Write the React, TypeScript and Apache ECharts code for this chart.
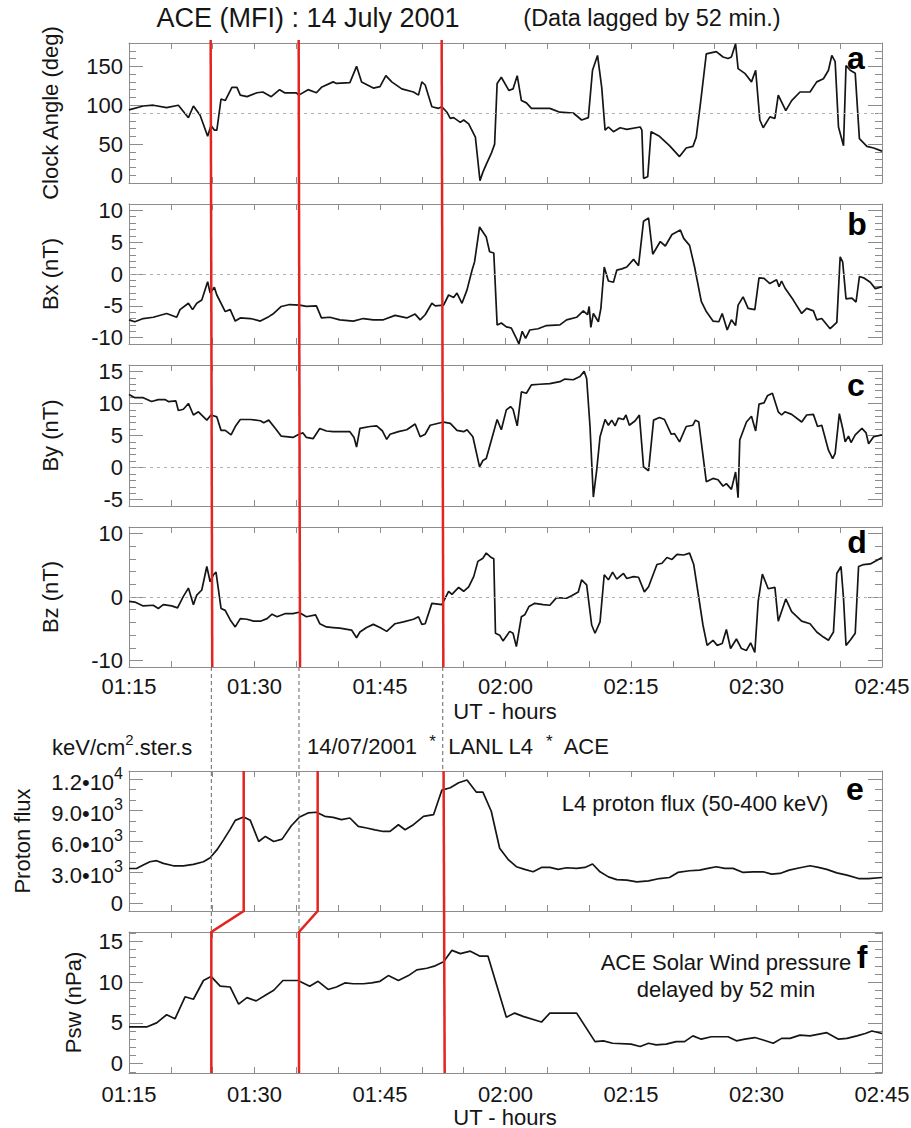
import React, { useEffect, useRef } from 'react';
import * as echarts from 'echarts';

const FONT = '"Liberation Sans", Arial, Helvetica, sans-serif';
const AXIS = '#8c8c8c';
const RED = '#e3241f';
const INK = '#151515';

// ---- data: [minutes after 01:15 UT, value] ----
const clockAngle: [number, number][] = [
  [0, 94], [1.7, 99], [2.9, 100], [4.5, 97], [5.9, 100], [7.1, 84], [7.7, 99], [8.5, 87], [9.4, 60], [9.8, 74],
  [10.2, 68], [10.5, 68], [11.0, 108], [11.5, 106], [12.3, 123], [12.9, 123], [13.3, 113], [14.1, 111], [15.3, 116],
  [16.0, 117], [17.0, 111], [18.0, 120], [18.6, 116], [20.0, 116], [20.3, 113], [21.4, 120], [22.4, 116], [23.0, 123],
  [24.4, 130], [24.8, 128], [26.4, 129], [27.2, 150], [27.8, 130], [29.2, 122], [30.0, 124], [30.7, 138], [31.4, 130],
  [32.6, 121], [34.0, 117], [34.6, 113], [35.0, 130], [35.4, 126], [36.2, 98], [37.0, 96], [37.4, 98], [38.0, 91],
  [38.4, 83], [38.8, 84], [39.6, 78], [40.0, 81], [40.6, 76], [41.4, 59], [41.95, 3], [42.3, 14], [42.7, 24],
  [43.3, 38], [43.7, 50], [44.0, 128], [44.5, 136], [45.4, 119], [45.9, 121], [46.4, 138], [46.9, 106], [47.5, 103],
  [48.1, 96], [50.3, 96], [51.5, 91], [53.1, 90], [54.1, 81], [54.9, 84], [55.4, 145], [56.0, 164], [56.5, 123],
  [56.9, 68], [57.3, 72], [57.9, 66], [58.7, 71], [59.5, 69], [61.1, 72], [61.3, 68], [61.5, 6], [62.0, 8],
  [62.4, 66], [63.4, 60], [64.6, 48], [65.8, 34], [66.6, 45], [67.4, 47], [67.8, 59], [68.4, 111], [69.0, 166],
  [70.2, 169], [71.0, 162], [71.6, 160], [72.0, 162], [72.5, 179], [72.8, 147], [73.6, 141], [74.4, 130], [74.9, 145],
  [75.4, 81], [75.8, 71], [76.6, 85], [77.2, 83], [77.6, 113], [78.5, 93], [79.2, 106], [80.2, 117], [81.4, 117],
  [82.2, 130], [83.0, 134], [83.6, 145], [84.0, 164], [84.4, 156], [84.8, 72], [85.4, 48], [85.7, 151], [86.2, 145],
  [86.8, 141], [87.3, 57], [88.2, 47], [89.0, 45], [90.0, 41],
];

const bx: [number, number][] = [
  [0, -7.2], [0.7, -7.5], [1.7, -7.0], [2.9, -6.8], [4.5, -6.2], [5.7, -6.8], [6.1, -5.6], [7.1, -4.6], [7.6, -5.6],
  [8.1, -4.6], [8.7, -4.1], [9.4, -1.2], [9.7, -3.0], [10.2, -2.1], [10.5, -3.3], [11.5, -5.9], [12.1, -5.6],
  [12.7, -7.4], [13.3, -6.9], [14.5, -7.0], [15.7, -7.4], [16.7, -6.7], [17.2, -6.3], [18.2, -5.1], [19.2, -4.8],
  [20.4, -4.9], [21.2, -5.1], [22.4, -5.0], [23.0, -6.9], [24.0, -6.8], [25.2, -7.2], [26.8, -7.4], [28.0, -7.0],
  [29.2, -7.2], [30.4, -7.2], [31.8, -6.5], [33.2, -6.9], [34.2, -6.3], [34.8, -7.2], [35.4, -6.4], [36.2, -4.6],
  [36.6, -5.0], [37.6, -4.9], [38.2, -3.3], [38.8, -3.7], [39.2, -3.0], [39.8, -4.6], [40.4, -2.5], [41.0, 0.6],
  [41.3, 1.9], [41.9, 7.4], [42.7, 5.8], [43.1, 3.5], [43.6, 3.3], [44.0, -8.0], [44.5, -7.7], [45.1, -8.3],
  [45.7, -8.5], [46.3, -10.1], [46.6, -11], [47.0, -9.0], [47.4, -10.1], [47.9, -8.8], [48.9, -8.6], [49.9, -8.1],
  [51.5, -8.0], [52.3, -7.2], [53.5, -6.8], [54.3, -5.8], [54.8, -6.4], [55.0, -5.1], [55.2, -8.4], [55.5, -6.2],
  [56.1, -7.5], [56.4, -5.4], [56.8, 1.1], [57.3, -1.1], [57.9, -1.3], [58.3, 0.6], [58.9, 0.8], [59.5, 1.1],
  [60.3, 2.3], [60.9, 1.3], [61.5, 8.3], [62.1, 8.8], [62.6, 3.1], [63.5, 5.1], [64.1, 4.4], [64.9, 6.2], [65.9, 6.9],
  [66.3, 5.6], [67.0, 4.5], [67.6, 1.1], [68.4, -4.3], [69.0, -5.9], [69.8, -7.4], [70.5, -7.5], [70.9, -6.2],
  [71.5, -8.8], [72.0, -7.2], [72.5, -8.1], [72.8, -4.9], [73.4, -3.6], [74.0, -5.4], [74.8, -5.6], [75.3, -0.6],
  [75.9, -0.7], [76.6, -1.5], [77.4, -0.9], [77.7, -2.0], [78.0, -1.1], [78.4, -2.2], [79.4, -4.1], [80.4, -6.2],
  [81.0, -5.4], [81.8, -5.8], [82.2, -7.2], [82.8, -7.0], [83.8, -8.6], [84.6, -7.6], [85.0, 2.7], [85.3, 1.9],
  [85.7, -3.9], [86.4, -3.8], [86.9, -4.4], [87.3, -0.4], [87.8, -0.6], [88.6, -1.3], [89.2, -2.3], [90.0, -2.0],
];

const by: [number, number][] = [
  [0, 11.4], [0.7, 10.9], [1.7, 10.9], [2.7, 10.3], [3.5, 10.6], [4.3, 10.6], [4.7, 10.3], [5.6, 10.4], [5.9, 8.9],
  [6.5, 9.1], [7.1, 10.0], [7.7, 8.2], [8.3, 8.7], [9.3, 7.4], [9.8, 8.2], [10.5, 7.9], [11.0, 5.8], [11.5, 5.8],
  [12.2, 5.1], [12.7, 6.4], [13.3, 7.5], [14.5, 7.5], [15.7, 7.3], [16.1, 7.0], [16.7, 7.4], [17.5, 6.1], [18.2, 4.9],
  [19.6, 4.7], [20.3, 5.2], [20.8, 5.4], [21.2, 4.7], [22.0, 4.5], [22.8, 6.1], [23.6, 5.7], [24.4, 5.6], [26.4, 5.6],
  [26.9, 4.7], [27.2, 3.2], [27.6, 6.1], [28.8, 6.4], [29.6, 6.5], [30.3, 5.7], [30.8, 4.4], [31.2, 5.2], [32.2, 5.6],
  [33.2, 5.9], [34.2, 6.8], [34.8, 4.8], [35.4, 5.2], [36.0, 6.6], [37.6, 7.1], [38.4, 6.9], [39.2, 5.8], [40.0, 5.6],
  [40.4, 5.9], [41.1, 4.8], [41.9, 0.1], [42.3, 1.1], [42.7, 1.4], [43.7, 6.1], [44.0, 7.5], [44.5, 5.9], [45.1, 9.0],
  [45.6, 9.5], [45.9, 9.1], [46.4, 6.5], [46.9, 11.8], [47.5, 11.6], [48.1, 12.9], [49.1, 13.0], [50.3, 13.1],
  [51.5, 13.4], [52.1, 13.8], [53.1, 13.7], [53.9, 14.2], [54.4, 15.0], [54.7, 13.9], [55.1, 6.4], [55.5, -4.6],
  [55.9, -0.4], [56.3, 4.8], [56.9, 7.5], [57.3, 6.6], [57.7, 7.4], [58.1, 6.5], [58.5, 7.7], [59.1, 7.5], [59.4, 8.2],
  [59.8, 6.6], [60.5, 7.3], [61.0, 8.2], [61.5, 0.1], [62.1, -0.5], [62.7, 7.4], [63.4, 7.8], [64.0, 7.5], [64.8, 5.2],
  [65.2, 5.3], [65.8, 4.0], [66.6, 6.4], [67.4, 6.6], [67.7, 7.4], [68.1, 7.1], [69.0, -2.2], [69.8, -1.7],
  [70.4, -1.9], [71.0, -2.9], [71.4, -2.5], [72.0, -3.4], [72.5, -0.7], [72.8, -4.7], [73.0, 4.3], [73.8, 7.1],
  [74.4, 8.0], [74.9, 5.7], [75.3, 9.9], [75.9, 10.1], [76.3, 11.2], [76.9, 11.6], [77.6, 8.7], [78.0, 8.2],
  [78.4, 8.7], [79.2, 8.3], [80.4, 7.1], [81.0, 8.2], [81.8, 8.3], [82.3, 6.4], [82.8, 6.6], [83.6, 2.7], [84.1, 1.4],
  [84.4, 2.2], [84.9, 8.4], [85.3, 6.1], [85.6, 4.0], [86.0, 4.9], [86.3, 3.9], [86.8, 5.1], [87.6, 6.1], [88.1, 5.4],
  [88.4, 3.7], [89.0, 4.8], [90.0, 5.1],
];

const bz: [number, number][] = [
  [0, -0.7], [0.7, -0.8], [1.7, -1.4], [2.9, -1.3], [3.5, -1.8], [4.1, -1.2], [5.1, -1.4], [5.8, -1.7], [6.5, 0.1],
  [7.1, 1.4], [7.7, -1.2], [8.1, 0.3], [8.7, 1.1], [9.3, 4.8], [9.7, 2.4], [10.1, 3.5], [10.4, 3.9], [11.0, -1.8],
  [11.5, -2.1], [12.1, -3.6], [12.7, -4.7], [13.3, -3.4], [14.1, -3.5], [14.9, -3.8], [15.7, -3.8], [16.5, -3.4],
  [17.1, -2.7], [17.7, -3.1], [18.7, -2.6], [19.6, -2.6], [20.3, -2.4], [21.2, -3.1], [22.3, -2.8], [22.8, -4.2],
  [23.6, -4.7], [24.4, -4.8], [25.2, -4.9], [26.6, -5.2], [27.2, -6.4], [27.6, -5.5], [28.4, -4.8], [29.2, -4.3],
  [30.0, -4.8], [30.8, -5.4], [31.8, -4.2], [32.8, -3.9], [34.0, -3.5], [34.6, -3.1], [35.0, -4.3], [35.4, -4.2],
  [36.2, -1.0], [37.4, -1.2], [38.2, 0.9], [38.6, 0.4], [39.4, 1.5], [40.0, 0.9], [40.6, 1.6], [41.2, 3.2], [41.7, 5.6],
  [42.3, 6.1], [42.7, 6.9], [43.3, 6.2], [43.6, 6.0], [43.8, -5.7], [44.3, -6.0], [44.7, -6.9], [45.5, -5.4],
  [45.9, -5.7], [46.3, -7.8], [46.9, -3.1], [47.3, -2.8], [47.8, -1.5], [48.5, -1.0], [49.5, -1.2], [50.3, -1.3],
  [51.1, -0.1], [52.3, -0.2], [52.9, 0.2], [53.7, 0.8], [54.1, 2.7], [54.7, 1.9], [55.3, -4.4], [55.7, -5.7],
  [56.3, -3.9], [56.8, 3.5], [57.3, 2.7], [57.8, 3.9], [58.3, 2.8], [59.1, 3.7], [59.5, 2.9], [60.3, 3.2], [60.9, 3.1],
  [61.6, 0.8], [62.1, 1.6], [63.1, 5.1], [63.7, 5.3], [64.3, 6.2], [64.9, 5.9], [65.5, 6.7], [66.3, 6.6], [67.0, 6.9],
  [67.5, 5.1], [68.6, -4.4], [69.1, -7.6], [69.8, -6.8], [70.3, -7.6], [70.9, -7.3], [71.4, -5.1], [71.9, -8.1],
  [72.6, -6.6], [73.2, -8.1], [73.8, -8.4], [74.3, -7.2], [74.8, -8.7], [75.2, -0.7], [75.7, 3.6], [76.4, 1.3],
  [77.2, 1.5], [77.6, -3.8], [78.5, -0.3], [79.2, -2.3], [80.4, -3.8], [81.4, -4.2], [82.2, -5.5], [83.0, -6.3],
  [83.6, -6.8], [84.2, -5.5], [84.6, 3.7], [85.1, 4.8], [85.4, -0.2], [85.7, -7.6], [86.2, -6.8], [86.8, -5.7],
  [87.2, 4.8], [87.8, 5.1], [88.6, 5.2], [90.0, 6.2],
];

const protonFlux: [number, number][] = [
  [0, 3400], [0.9, 3400], [1.7, 3730], [2.5, 4050], [3.3, 4150], [4.1, 3890], [5.3, 3660], [6.5, 3660], [7.7, 3790],
  [8.9, 4050], [9.7, 4440], [10.5, 5190], [11.3, 6160], [12.1, 7200], [12.7, 8040], [13.7, 8370], [14.5, 8040],
  [15.5, 6000], [16.3, 6490], [17.3, 6000], [18.3, 6230], [19.4, 7520], [20.4, 8370], [21.4, 8760], [22.4, 8820],
  [23.4, 8430], [24.4, 8330], [25.4, 8110], [26.4, 8270], [27.4, 7460], [28.4, 7300], [29.4, 7130], [30.4, 6970],
  [31.2, 6970], [32.2, 7620], [33.0, 7130], [34.0, 7620], [35.2, 8430], [36.4, 8590], [37.4, 10960], [38.4, 11190],
  [39.4, 11670], [40.4, 11930], [41.5, 10770], [42.3, 10770], [43.3, 8920], [44.3, 5350], [45.3, 4280], [46.3, 3570],
  [47.3, 3310], [48.3, 3080], [49.3, 3500], [50.3, 3500], [51.3, 3310], [52.3, 3470], [53.5, 3410], [54.5, 3500],
  [55.4, 3830], [56.3, 3080], [57.3, 2590], [58.3, 2330], [59.5, 2270], [60.7, 2110], [62.1, 2200], [63.4, 2430],
  [64.6, 2530], [65.6, 3020], [67.0, 3180], [68.2, 3240], [69.2, 3410], [70.2, 3570], [71.2, 3410], [72.2, 3410],
  [73.4, 3020], [74.6, 3080], [75.8, 3080], [76.8, 2850], [77.8, 2920], [78.9, 3240], [80.2, 3470], [81.4, 3660],
  [82.4, 3500], [83.4, 3310], [84.6, 2980], [85.8, 2760], [87.2, 2430], [88.4, 2430], [90.0, 2530],
];

const swPressure: [number, number][] = [
  [0, 4.5], [2.1, 4.5], [3.3, 5.0], [4.5, 6.0], [5.5, 5.5], [6.7, 8.2], [7.7, 7.9], [8.9, 10.2], [9.8, 10.7],
  [10.9, 9.5], [12.1, 9.4], [13.1, 7.3], [14.1, 8.1], [15.2, 7.7], [16.3, 8.4], [17.3, 9.0], [18.4, 10.2], [20.2, 10.2],
  [21.6, 9.5], [22.6, 10.1], [23.8, 9.1], [24.8, 9.4], [25.8, 9.9], [26.8, 9.8], [28.0, 9.8], [29.0, 9.9], [30.0, 10.1],
  [31.0, 10.8], [32.2, 10.2], [33.4, 10.8], [34.4, 11.5], [35.6, 11.7], [36.6, 12.0], [37.6, 12.5], [38.6, 13.9],
  [39.6, 13.5], [40.8, 13.8], [41.9, 13.2], [42.9, 13.2], [45.1, 5.7], [46.1, 6.2], [47.1, 5.8], [49.3, 5.1],
  [50.3, 6.2], [53.5, 6.2], [55.7, 2.7], [56.7, 2.8], [57.8, 2.5], [60.0, 2.4], [61.1, 2.1], [62.1, 2.5], [63.0, 2.3],
  [64.2, 2.4], [65.4, 2.7], [66.4, 2.7], [67.4, 3.4], [68.4, 3.0], [69.6, 3.3], [71.6, 3.3], [72.6, 2.8], [73.6, 3.0],
  [74.8, 3.2], [75.8, 2.9], [77.0, 2.5], [78.0, 3.1], [79.0, 3.1], [80.2, 3.5], [81.4, 3.4], [83.4, 3.8], [84.8, 3.0],
  [85.8, 3.1], [87.0, 3.4], [88.0, 3.7], [88.8, 4.0], [90.0, 3.7],
];

// ---- tick labels ----
const timeTicks = ['01:15', '01:30', '01:45', '02:00', '02:15', '02:30', '02:45'];
const clockTicks = [0, 50, 100, 150];
const bxTicks = [-10, -5, 0, 5, 10];
const byTicks = [-5, 0, 5, 10, 15];
const bzTicks = [-10, 0, 10];
const fluxTicks = [0, 3000, 6000, 9000, 12000];
const pswTicks = [0, 5, 10, 15];

// ---- event markers (minutes after 01:15 UT) ----
const aceEventsTop = [9.76, 20.28, 37.37];
const aceEventsBottom = [9.95, 20.44, 37.57];
const pswEvents = [9.84, 20.32, 37.73];
const l4Events = [13.71, 22.55, 37.6];
const guideEvents = [9.84, 20.32, 37.5];

// ---- layout ----
const LEFT = 129;
const WIDTH = 753;
const TOPS = [43, 204, 365, 527, 771, 932];
const HEIGHTS = [140, 140, 141, 140, 140, 141];

const panels = [
  { data: clockAngle, min: 0, max: 180, ticks: clockTicks, minor: 10, ref: 90, name: 'Clock Angle (deg)', nameX: 50, letter: 'a', lx: 856, ly: 58 },
  { data: bx, min: -11, max: 11, ticks: bxTicks, minor: 1, ref: 0, name: 'Bx (nT)', nameX: 50, letter: 'b', lx: 857, ly: 224 },
  { data: by, min: -6, max: 16, ticks: byTicks, minor: 1, ref: 0, name: 'By (nT)', nameX: 50, letter: 'c', lx: 856, ly: 385 },
  { data: bz, min: -11, max: 11, ticks: bzTicks, minor: 2, ref: 0, name: 'Bz (nT)', nameX: 50, letter: 'd', lx: 857, ly: 542 },
  { data: protonFlux, min: -700, max: 12800, ticks: fluxTicks, minor: 1000, ref: null, name: 'Proton flux', nameX: 22, letter: 'e', lx: 855, ly: 789 },
  { data: swPressure, min: -1.15, max: 16.15, ticks: pswTicks, minor: 1, ref: null, name: 'Psw (nPa)', nameX: 73, letter: 'f', lx: 862, ly: 957 },
];

const minorList = (min: number, max: number, step: number, majors: number[]) => {
  const out: number[] = [];
  for (let k = Math.ceil(min / step - 1e-9); k * step <= max + 1e-9; k++) {
    const v = +(k * step).toFixed(6);
    if (!majors.includes(v)) out.push(v);
  }
  return out;
};

const fmtTime = (v: number) => (Math.abs(v % 15) < 1e-6 ? timeTicks[Math.round(v / 15)] : '');

const fluxLabel = (v: number) => {
  if (v === 0) return '0';
  const e = Math.floor(Math.log10(v) + 1e-9);
  const m = (v / Math.pow(10, e)).toFixed(1);
  return `{m|${m}\u202210}{s|${e}}`;
};

const labelBase = { fontFamily: FONT, fontSize: 22, color: INK };

function buildOption() {
  const grid = panels.map((p, i) => ({
    left: LEFT, width: WIDTH, top: TOPS[i], height: HEIGHTS[i], containLabel: false, outerBoundsMode: 'none',
  }));
  const xAxis: any[] = [];
  const yAxis: any[] = [];
  panels.forEach((p, i) => {
    const labeled = i === 3 || i === 5;
    const common = {
      type: 'value', gridIndex: i, min: 0, max: 90, interval: 5,
      axisLine: { show: true, onZero: false, lineStyle: { color: AXIS, width: 1 } },
      axisTick: { show: true, inside: true, length: 6, lineStyle: { color: AXIS, width: 1 } },
      splitLine: { show: false },
    };
    xAxis.push({
      ...common, position: 'bottom',
      axisLabel: { show: labeled, ...labelBase, formatter: fmtTime, margin: i === 3 ? 8 : 10, showMinLabel: true, showMaxLabel: true },
    });
    xAxis.push({ ...common, position: 'top', axisLabel: { show: false } });

    const minors = minorList(p.min, p.max, p.minor, p.ticks);
    const yc = { type: 'value', gridIndex: i, min: p.min, max: p.max, splitLine: { show: false } };
    const isFlux = i === 4;
    const labelFmt = isFlux
      ? fluxLabel
      : i === 0
        ? (v: number) => (v === 0 ? '{z|0}' : String(v))
        : (v: number) => String(v);
    yAxis.push({
      ...yc, position: 'left',
      axisLine: { show: true, onZero: false, lineStyle: { color: AXIS, width: 1 } },
      axisTick: { show: true, inside: true, length: 14, customValues: p.ticks, lineStyle: { color: AXIS } },
      axisLabel: {
        show: true, ...labelBase, margin: 6, customValues: p.ticks, formatter: labelFmt,
        showMinLabel: true, showMaxLabel: true,
        rich: {
          m: { fontFamily: FONT, fontSize: 22, color: INK, lineHeight: 28, verticalAlign: 'bottom' },
          s: { fontFamily: FONT, fontSize: 16, color: INK, lineHeight: 16, verticalAlign: 'top' },
          z: { fontFamily: FONT, fontSize: 22, color: INK, padding: [0, 0, 16, 0] },
        },
      },
    });
    yAxis.push({
      ...yc, position: 'left',
      axisLine: { show: false, onZero: false },
      axisTick: { show: true, inside: true, length: 7, customValues: minors, lineStyle: { color: AXIS } },
      axisLabel: { show: false },
    });
    yAxis.push({
      ...yc, position: 'right',
      axisLine: { show: true, onZero: false, lineStyle: { color: AXIS, width: 1 } },
      axisTick: { show: true, inside: true, length: 14, customValues: p.ticks, lineStyle: { color: AXIS } },
      axisLabel: { show: false },
    });
    yAxis.push({
      ...yc, position: 'right',
      axisLine: { show: false, onZero: false },
      axisTick: { show: true, inside: true, length: 7, customValues: minors, lineStyle: { color: AXIS } },
      axisLabel: { show: false },
    });
  });

  const series = panels.map((p, i) => ({
    type: 'line',
    xAxisIndex: 2 * i,
    yAxisIndex: 4 * i,
    data: p.data,
    showSymbol: false,
    symbol: 'none',
    silent: true,
    clip: true,
    z: 3,
    lineStyle: { color: INK, width: 1.7 },
    itemStyle: { color: INK },
    emphasis: { disabled: true },
    markLine: p.ref === null ? undefined : {
      silent: true,
      symbol: ['none', 'none'],
      label: { show: false },
      lineStyle: { color: '#b0b0b0', type: [3, 4], width: 1 },
      emphasis: { disabled: true },
      data: [{ yAxis: p.ref }],
    },
  }));

  return { animation: false, backgroundColor: '#ffffff', grid, xAxis, yAxis, series };
}

function text(t: string, x: number, y: number, extra: any = {}, rotation = 0): any {
  const { align = 'center', ...rest } = extra;
  return {
    type: 'text', x, y, z: 100, rotation, silent: true,
    style: {
      text: t, fontFamily: FONT, fontSize: 22, fill: INK,
      align, textAlign: align, verticalAlign: 'middle', textVerticalAlign: 'middle',
      ...rest,
    },
  };
}

export default function App() {
  const ref = useRef<HTMLDivElement>(null);
  useEffect(() => {
    if (!ref.current) return;
    const chart = echarts.init(ref.current, undefined, { renderer: 'svg' });
    chart.setOption(buildOption() as any);

    const px = (t: number) => chart.convertToPixel({ xAxisIndex: 0 }, t) as number;
    const aTop = TOPS[0];
    const dBot = TOPS[3] + HEIGHTS[3];
    const eTop = TOPS[4];
    const eBot = TOPS[4] + HEIGHTS[4];
    const fTop = TOPS[5];
    const fBot = TOPS[5] + HEIGHTS[5];

    const g: any[] = [];
    const redStyle = { stroke: RED, lineWidth: 2.5, fill: null };
    const dashStyle = { stroke: '#666', lineWidth: 1, lineDash: [4, 3], fill: null };

    guideEvents.forEach((t, k) => {
      const x = px(t);
      g.push({ type: 'line', z: 90, silent: true, shape: { x1: x, y1: dBot, x2: x, y2: k < 2 ? fTop : eTop }, style: dashStyle });
    });
    aceEventsTop.forEach((t, k) => {
      g.push({ type: 'line', z: 95, silent: true, shape: { x1: px(t), y1: aTop - 3, x2: px(aceEventsBottom[k]), y2: dBot }, style: redStyle });
    });
    pswEvents.forEach((t, k) => {
      if (k < 2) {
        g.push({
          type: 'polyline', z: 95, silent: true,
          shape: { points: [[px(t), fBot], [px(t), fTop], [px(l4Events[k]), eBot], [px(l4Events[k]), eTop]] },
          style: redStyle,
        });
      } else {
        g.push({ type: 'line', z: 95, silent: true, shape: { x1: px(l4Events[k]), y1: eTop, x2: px(t), y2: fBot }, style: redStyle });
      }
    });

    // titles and annotations
    g.push(text('ACE (MFI) : 14 July 2001', 308, 18, { fontSize: 27 }));
    g.push(text('(Data lagged by 52 min.)', 652, 18, { fontSize: 23.5 }));
    panels.forEach((p, i) => {
      g.push(text(p.name, p.nameX, TOPS[i] + HEIGHTS[i] / 2, {}, Math.PI / 2));
      g.push(text(p.letter, p.lx, p.ly, { fontSize: 32, fontWeight: 'bold', fill: '#000' }));
    });
    g.push(text('UT - hours', 505, 711));
    g.push(text('UT - hours', 505, 1117));
    g.push({
      type: 'text', x: 52, y: 745, z: 100, silent: true,
      style: {
        text: '{a|keV/cm}{s|2}{a|.ster.s}', fontFamily: FONT, fontSize: 22, fill: INK,
        align: 'left', textAlign: 'left', verticalAlign: 'middle', textVerticalAlign: 'middle',
        rich: {
          a: { fontFamily: FONT, fontSize: 22, fill: INK, lineHeight: 26, verticalAlign: 'bottom' },
          s: { fontFamily: FONT, fontSize: 15, fill: INK, lineHeight: 15, verticalAlign: 'top' },
        },
      },
    });
    g.push({
      type: 'text', x: 307, y: 745, z: 100, silent: true,
      style: {
        text: '{a|14/07/2001  }{b|*}{a|  LANL L4  }{b|*}{a|  ACE}', fontFamily: FONT, fontSize: 22, fill: INK,
        align: 'left', textAlign: 'left', verticalAlign: 'middle', textVerticalAlign: 'middle',
        rich: {
          a: { fontFamily: FONT, fontSize: 22, fill: INK, lineHeight: 24, verticalAlign: 'bottom' },
          b: { fontFamily: FONT, fontSize: 17, fill: INK, lineHeight: 17, verticalAlign: 'top' },
        },
      },
    });
    g.push(text('L4 proton flux (50-400 keV)', 695, 803));
    g.push(text('ACE Solar Wind pressure', 726, 962));
    g.push(text('delayed by 52 min', 726, 989));

    chart.setOption({ graphic: { elements: g } } as any);
    return () => chart.dispose();
  }, []);

  return (
    <div
      ref={ref}
      style={{ position: 'absolute', left: 0, top: 0, width: 911, height: 1128, background: '#fff' }}
    />
  );
}
